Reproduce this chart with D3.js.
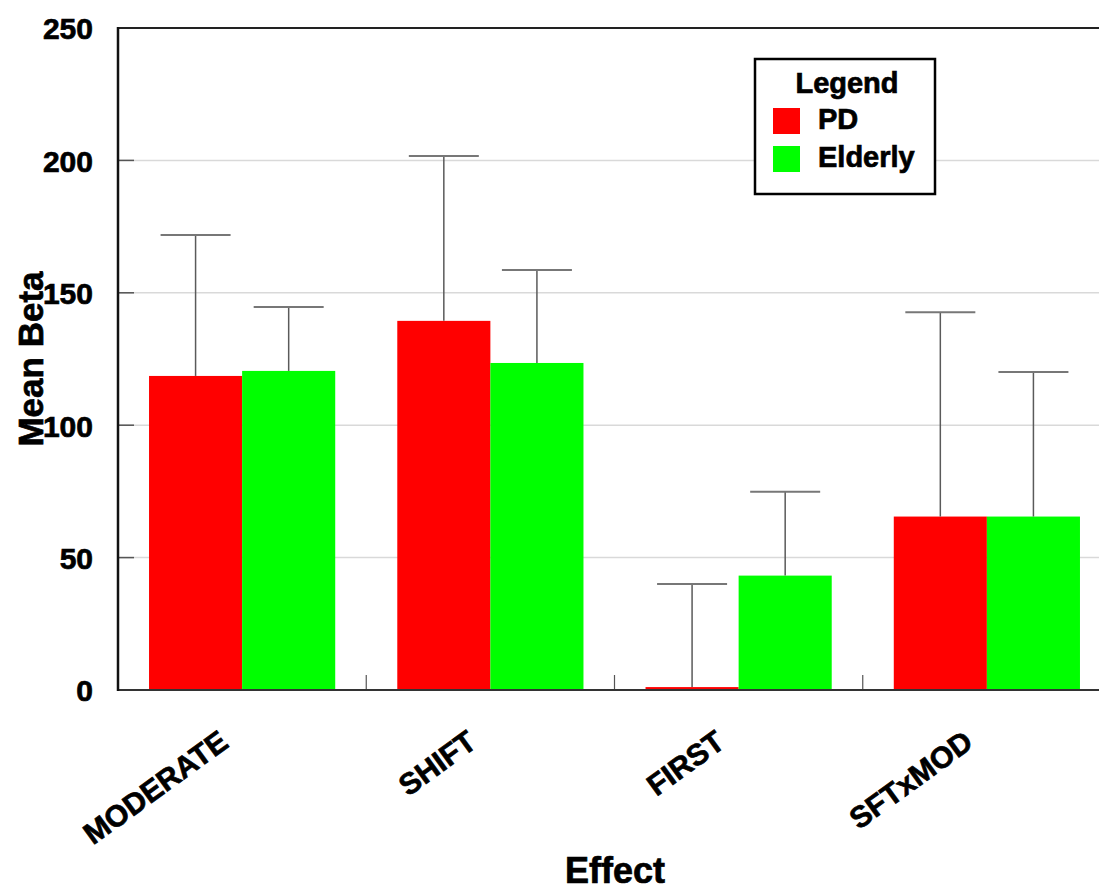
<!DOCTYPE html>
<html>
<head>
<meta charset="utf-8">
<script src="https://cdn.jsdelivr.net/npm/d3@7/dist/d3.min.js"></script>
<style>
  html, body { margin: 0; padding: 0; background: #fff; }
  svg { display: block; font-family: "Liberation Sans", Arial, sans-serif; font-weight: bold; }
  svg text { stroke: #000; stroke-width: 0.7px; paint-order: stroke; }
</style>
</head>
<body>
<svg id="chart" width="1099" height="891"></svg>
<script>
const categories = ["MODERATE", "SHIFT", "FIRST", "SFTxMOD"];
const seriesNames = ["PD", "Elderly"];
const seriesColors = ["#ff0000", "#00ff00"];
const pdMeans = [118.6, 139.4, 1.1, 65.5];
const pdUpper = [171.8, 201.7, 40.0, 142.7];
const elderlyMeans = [120.5, 123.5, 43.2, 65.5];
const elderlyUpper = [144.6, 158.6, 74.9, 120.1];
const yTicks = [0, 50, 100, 150, 200, 250];

(function () {
const means = [pdMeans, elderlyMeans];
const uppers = [pdUpper, elderlyUpper];

const svg = d3.select("#chart");
const pl = 118, pr = 1111, pt = 28, pb = 690;

const y = d3.scaleLinear().domain([0, 250]).range([pb, pt]);
const x0 = d3.scaleBand().domain(categories).range([pl, pr]).padding(0);
const x1 = d3.scaleBand().domain(seriesNames)
  .range([x0.bandwidth() * 0.125, x0.bandwidth() * 0.875]).padding(0);

// gridlines
svg.append("g").selectAll("line").data(yTicks.filter(t => t > 0 && t < 250)).join("line")
  .attr("x1", pl).attr("x2", 1099)
  .attr("y1", d => y(d)).attr("y2", d => y(d))
  .attr("stroke", "#d9d9d9").attr("stroke-width", 1.5);

// bars
const data = [];
categories.forEach((c, i) => seriesNames.forEach((s, j) => {
  data.push({ cat: c, ser: s, j, v: means[j][i], up: uppers[j][i] });
}));

svg.append("g").selectAll("rect").data(data).join("rect")
  .attr("x", d => x0(d.cat) + x1(d.ser))
  .attr("width", x1.bandwidth())
  .attr("y", d => y(d.v))
  .attr("height", d => y(0) - y(d.v))
  .attr("fill", d => seriesColors[d.j]);

// error bars
const cx = d => x0(d.cat) + x1(d.ser) + x1.bandwidth() / 2;
const eb = svg.append("g").attr("stroke", "#5a5a5a").attr("stroke-width", 1.5);
eb.selectAll("line.v").data(data).join("line").attr("class", "v")
  .attr("x1", cx).attr("x2", cx)
  .attr("y1", d => y(d.v)).attr("y2", d => y(d.up));
eb.selectAll("line.c").data(data).join("line").attr("class", "c")
  .attr("x1", d => cx(d) - 35).attr("x2", d => cx(d) + 35)
  .attr("y1", d => y(d.up)).attr("y2", d => y(d.up))
  .attr("stroke", "#777").attr("stroke-width", 2);

// category boundary ticks
svg.append("g").selectAll("line").data(categories.slice(1)).join("line")
  .attr("x1", d => x0(d)).attr("x2", d => x0(d))
  .attr("y1", pb - 15).attr("y2", pb)
  .attr("stroke", "#555").attr("stroke-width", 1.2);

// y ticks inside
svg.append("g").selectAll("line").data(yTicks).join("line")
  .attr("x1", pl).attr("x2", pl + 16)
  .attr("y1", d => y(d)).attr("y2", d => y(d))
  .attr("stroke", "#555").attr("stroke-width", 1.5);

// top border & axes
svg.append("line").attr("x1", pl).attr("x2", 1099).attr("y1", pt).attr("y2", pt)
  .attr("stroke", "#222").attr("stroke-width", 2);
svg.append("line").attr("x1", pl).attr("x2", 1099).attr("y1", pb).attr("y2", pb)
  .attr("stroke", "#333").attr("stroke-width", 2);
svg.append("line").attr("x1", pl).attr("x2", pl).attr("y1", pt - 1).attr("y2", pb + 1)
  .attr("stroke", "#111").attr("stroke-width", 2.5);

// y tick labels
const yAxis = d3.axisLeft(y).tickValues(yTicks).tickSize(0).tickPadding(0);
const ya = svg.append("g").attr("transform", "translate(93,0)").call(yAxis);
ya.select(".domain").remove();
ya.selectAll("text").attr("font-size", 30).attr("font-family", "Liberation Sans, Arial, sans-serif")
  .attr("font-weight", "bold").attr("fill", "#000").attr("dy", "0.36em");

// x category labels
svg.append("g").selectAll("text").data(categories).join("text")
  .attr("transform", d => `translate(${x0(d) + x0.bandwidth() / 2 - 12},746) rotate(-36)`)
  .attr("text-anchor", "end")
  .attr("font-size", 30)
  .attr("fill", "#000")
  .text(d => d);

// axis titles
svg.append("text").attr("x", 615).attr("y", 883).attr("text-anchor", "middle")
  .attr("font-size", 36).text("Effect");
svg.append("text").attr("transform", "translate(43,359) rotate(-90)")
  .attr("text-anchor", "middle").attr("font-size", 35).text("Mean Beta");

// legend
const lg = svg.append("g");
lg.append("rect").attr("x", 755).attr("y", 59).attr("width", 180).attr("height", 135)
  .attr("fill", "#fff").attr("stroke", "#000").attr("stroke-width", 2.5);
lg.append("text").attr("x", 847).attr("y", 93).attr("text-anchor", "middle")
  .attr("font-size", 29).text("Legend");
seriesNames.forEach((s, j) => {
  lg.append("rect").attr("x", 773).attr("y", 108 + j * 38).attr("width", 27).attr("height", 26)
    .attr("fill", seriesColors[j]);
  lg.append("text").attr("x", 818).attr("y", 129 + j * 38).attr("font-size", 29).text(s);
});
})();
</script>
</body>
</html>
